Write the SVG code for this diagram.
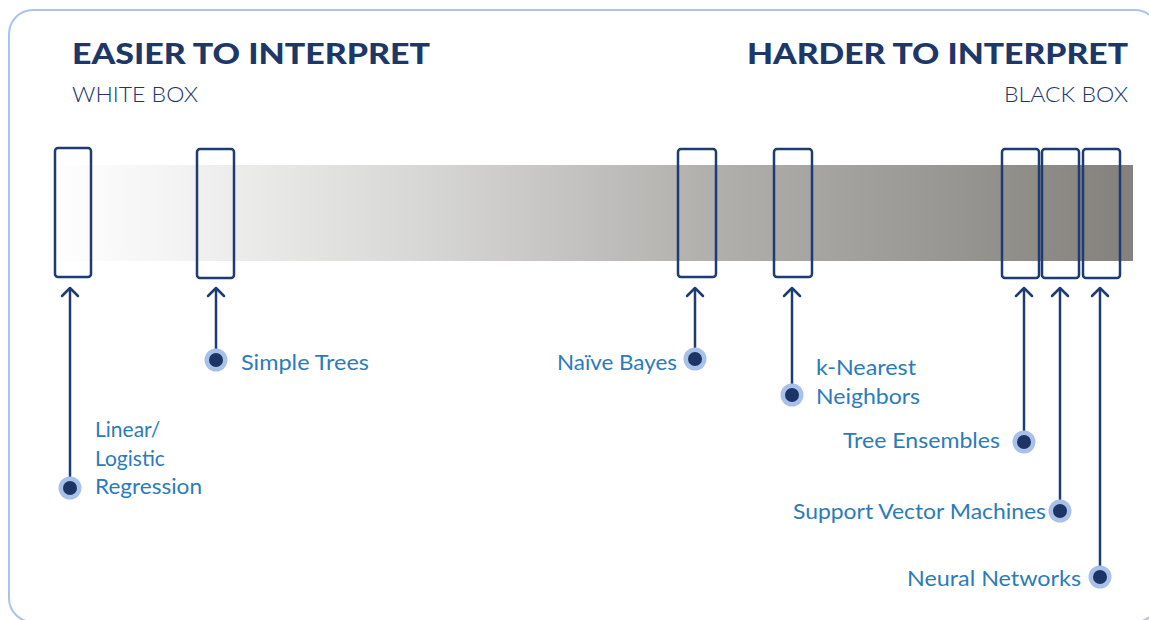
<svg xmlns="http://www.w3.org/2000/svg" width="1149" height="620" viewBox="0 0 1149 620">
<style>
.title{font-family:Lato,"Liberation Sans",sans-serif;font-weight:900;font-size:29px;fill:#1c3768}
.sub{font-family:Lato,"Liberation Sans",sans-serif;font-weight:300;font-size:21px;fill:#1c3768}
.lbl{font-family:Lato,"Liberation Sans",sans-serif;font-weight:400;font-size:21px;fill:#2b7bbb}
.box{fill:none;stroke:#1f3b73;stroke-width:2.5}
.conn line{stroke:#1f3b73;stroke-width:2.5}
.halo{fill:#a9c1ea}
.dot{fill:#1c3466}
.tip{fill:none;stroke:#1f3b73;stroke-width:2.5;stroke-linecap:round;stroke-linejoin:round}
</style>
<defs>
<linearGradient id="bar" x1="50" y1="0" x2="1133" y2="0" gradientUnits="userSpaceOnUse">
<stop offset="0" stop-color="#ffffff"/>
<stop offset="0.1" stop-color="#f5f5f5"/>
<stop offset="0.35" stop-color="#d6d6d5"/>
<stop offset="0.6" stop-color="#b3b1ae"/>
<stop offset="0.8" stop-color="#9c9a96"/>
<stop offset="1" stop-color="#84817c"/>
</linearGradient>
</defs>
<rect x="0" y="0" width="1149" height="620" fill="#ffffff"/>
<rect x="9" y="10" width="1150" height="612" rx="24" fill="#ffffff" stroke="#a8c4ee" stroke-width="2"/>
<text class="title" x="72" y="64" textLength="358" lengthAdjust="spacingAndGlyphs">EASIER TO INTERPRET</text>
<text class="sub" x="72" y="102" textLength="126" lengthAdjust="spacingAndGlyphs">WHITE BOX</text>
<text class="title" x="1128" y="64" text-anchor="end" textLength="381" lengthAdjust="spacingAndGlyphs">HARDER TO INTERPRET</text>
<text class="sub" x="1128" y="102" text-anchor="end" textLength="124" lengthAdjust="spacingAndGlyphs">BLACK BOX</text>
<rect x="50" y="165" width="1083" height="96" fill="url(#bar)"/>
<g id="box-linear"><rect class="box" x="55" y="148" width="36" height="129" rx="3"/></g>
<g id="box-trees"><rect class="box" x="197" y="149" width="37" height="129" rx="3"/></g>
<g id="box-bayes"><rect class="box" x="678" y="149" width="38" height="128" rx="3"/></g>
<g id="box-knn"><rect class="box" x="774" y="149" width="38" height="128" rx="3"/></g>
<g id="box-ensembles"><rect class="box" x="1002" y="149" width="37" height="129" rx="3"/></g>
<g id="box-svm"><rect class="box" x="1042" y="149" width="37" height="129" rx="3"/></g>
<g id="box-nn"><rect class="box" x="1083" y="149" width="37" height="129" rx="3"/></g>
<g id="connectors" class="conn">
<line x1="70" y1="288" x2="70" y2="488"/><polyline class="tip" points="62,296 70,288 78,296"/>
<line x1="216" y1="288" x2="216" y2="360"/><polyline class="tip" points="208,296 216,288 224,296"/>
<line x1="695" y1="288" x2="695" y2="359"/><polyline class="tip" points="687,296 695,288 703,296"/>
<line x1="792" y1="288" x2="792" y2="395"/><polyline class="tip" points="784,296 792,288 800,296"/>
<line x1="1024" y1="288" x2="1024" y2="442"/><polyline class="tip" points="1016,296 1024,288 1032,296"/>
<line x1="1060" y1="288" x2="1060" y2="511"/><polyline class="tip" points="1052,296 1060,288 1068,296"/>
<line x1="1100" y1="288" x2="1100" y2="577"/><polyline class="tip" points="1092,296 1100,288 1108,296"/>
</g>
<g id="lbl-linear">
<circle class="halo" cx="70" cy="488" r="11.5"/><circle class="dot" cx="70" cy="488" r="7"/>
<text class="lbl" x="95" y="437">Linear/</text>
<text class="lbl" x="95" y="466">Logistic</text>
<text class="lbl" x="95" y="494" textLength="107" lengthAdjust="spacingAndGlyphs">Regression</text>
</g>
<g id="lbl-trees">
<circle class="halo" cx="216" cy="360" r="11.5"/><circle class="dot" cx="216" cy="360" r="7"/>
<text class="lbl" x="241" y="370" textLength="128" lengthAdjust="spacingAndGlyphs">Simple Trees</text>
</g>
<g id="lbl-bayes">
<circle class="halo" cx="695" cy="359" r="11.5"/><circle class="dot" cx="695" cy="359" r="7"/>
<text class="lbl" x="677" y="370" text-anchor="end" textLength="120" lengthAdjust="spacingAndGlyphs">Naïve Bayes</text>
</g>
<g id="lbl-knn">
<circle class="halo" cx="792" cy="395" r="11.5"/><circle class="dot" cx="792" cy="395" r="7"/>
<text class="lbl" x="816" y="375" textLength="100" lengthAdjust="spacingAndGlyphs">k-Nearest</text>
<text class="lbl" x="816" y="404" textLength="104" lengthAdjust="spacingAndGlyphs">Neighbors</text>
</g>
<g id="lbl-ensembles">
<circle class="halo" cx="1024" cy="442" r="11.5"/><circle class="dot" cx="1024" cy="442" r="7"/>
<text class="lbl" x="1000" y="448" text-anchor="end" textLength="157" lengthAdjust="spacingAndGlyphs">Tree Ensembles</text>
</g>
<g id="lbl-svm">
<circle class="halo" cx="1060" cy="511" r="11.5"/><circle class="dot" cx="1060" cy="511" r="7"/>
<text class="lbl" x="1046" y="519" text-anchor="end" textLength="253" lengthAdjust="spacingAndGlyphs">Support Vector Machines</text>
</g>
<g id="lbl-nn">
<circle class="halo" cx="1100" cy="577" r="11.5"/><circle class="dot" cx="1100" cy="577" r="7"/>
<text class="lbl" x="1081" y="586" text-anchor="end" textLength="174" lengthAdjust="spacingAndGlyphs">Neural Networks</text>
</g>
</svg>
